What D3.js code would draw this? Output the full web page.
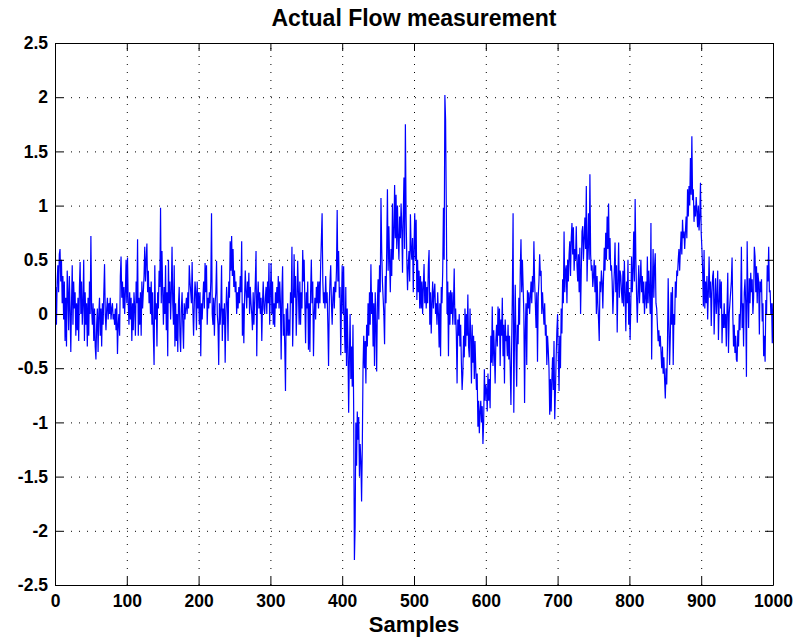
<!DOCTYPE html>
<html>
<head>
<meta charset="utf-8">
<script src="https://cdn.jsdelivr.net/npm/d3@7"></script>
<style>
  body { margin: 0; background: #fff; }
  text { font-family: "Liberation Sans", Arial, sans-serif; font-weight: bold; fill: #000; }
</style>
</head>
<body>
<script>
// flow values, one per sample (1..1000)
const flow = [
  0.25,-0.1,0.3,0.45,0.2,0.55,0.6,0.3,0.5,0.1,
  0.35,-0.05,0.3,-0.25,0.15,-0.3,0.4,0.2,-0.15,0.35,
  0.05,-0.35,0.1,0.45,-0.1,0.3,0.05,0.2,-0.2,0.1,
  -0.15,0.15,-0.25,0.25,0.48,0,0.3,-0.1,0.1,0.5,
  -0.25,0.2,-0.1,0.1,-0.3,0.15,-0.2,0.3,0,0.72,
  0.05,-0.1,0.1,-0.25,0.05,-0.3,-0.42,-0.1,0.05,-0.35,
  0,0.15,-0.2,0.05,-0.3,0.1,-0.1,0.2,0.46,0,
  -0.15,0.05,0.15,-0.05,0.1,0,0.15,-0.05,0.05,0.1,
  -0.05,0,-0.1,0.05,-0.15,0.1,-0.37,-0.1,0,-0.2,
  0.35,0.53,0.15,0.3,0.05,0.25,0,0.2,0.5,0.1,
  0.52,0.1,-0.1,0.2,-0.05,0.15,-0.25,0.1,-0.15,0.2,
  0.05,-0.2,0.3,0.1,0.69,-0.2,0.15,-0.1,0.2,-0.2,
  0.3,0.05,0.2,0.35,0.62,0.3,0.5,0.65,0.2,0.4,
  0.1,0.25,0,0.3,-0.1,0.2,-0.2,-0.47,0.45,-0.05,
  0.1,-0.3,0.2,0.05,0.4,0.25,0.98,0.1,0.58,0.2,
  -0.1,0.25,0,0.45,-0.15,0.2,-0.39,0.5,0.1,0.3,
  -0.05,0.2,0.62,0.1,-0.1,0.45,-0.3,0.1,-0.25,0,
  -0.35,0.1,0.25,-0.2,-0.35,0.05,0.2,-0.1,-0.32,0.1,
  -0.05,0.05,0.15,0,0.2,0.05,0.45,0.3,0.2,0.1,
  0.48,0.05,-0.2,0.1,0.3,0.2,-0.15,0.3,0.05,0.2,
  -0.1,0.2,-0.39,0.1,-0.05,0.15,0.3,0.05,0.47,0.2,
  0.45,-0.1,0.15,0.05,0.2,0.1,0.3,0.93,0,-0.1,
  0.15,-0.2,0.1,0.2,0.49,0,-0.1,-0.47,0.1,-0.1,
  0.05,0.45,-0.25,0.05,-0.1,0.1,-0.45,0,0.25,0.1,
  -0.25,0.3,0.15,0.67,0.4,0.72,0.35,0.6,0.25,0.4,
  0.2,0.3,0,0.2,0.05,0.25,0.1,0.35,0.2,0.67,
  -0.2,0.1,-0.27,0.15,0.4,0.2,0.05,0.3,0.15,0.38,
  0,0.25,0.1,0,-0.15,0.2,-0.1,0.1,0.3,0.58,
  -0.39,0.15,0.3,0.05,0.2,0,0.15,-0.25,0.1,0.3,
  0.05,0,0.15,0.25,0,0.3,0.1,0.47,-0.1,0.2,
  0.47,0,0.3,-0.1,0.1,-0.12,0.2,0.05,0.25,0.1,
  0.35,0.05,0.3,0.1,-0.42,0.2,0.44,-0.2,0,-0.3,
  -0.71,0.05,-0.2,0.1,-0.2,-0.05,-0.2,0.2,0.1,0.62,
  -0.3,0.05,0.55,0.15,0.35,-0.2,0.1,0.49,0.2,-0.1,
  0.3,-0.1,0.2,0.05,0.59,0.3,0.5,0.1,-0.27,0.2,
  0.05,0.3,-0.33,0.1,-0.35,0.2,0.5,0.1,0.3,-0.39,
  0,0.15,-0.05,0.25,0.1,0.3,0.05,0.3,0.1,0.45,
  0.69,0.93,0.3,0.1,0.2,0.05,0.35,0.1,0.2,-0.1,
  -0.48,0.1,0.3,0.45,0.1,-0.1,0.15,0.25,0.05,0.3,
  0.2,0.4,0.96,0.3,0.58,0.15,0.25,-0.38,0.1,0.45,
  0,0.44,-0.1,-0.36,0.25,-0.48,0.05,-0.3,-0.91,-0.4,
  0,-0.6,-0.3,-0.67,-0.1,-0.9,-2.27,-1.96,-1,-1.4,
  -0.9,-1.16,-0.95,-1.5,-1.2,-1.35,-1.73,-1.22,-0.5,-0.2,
  -0.5,-0.25,-0.64,-0.1,-0.3,0.1,-0.2,0.2,-0.1,0.46,
  0,0.2,-0.3,0.1,-0.48,0.2,-0.1,-0.53,0.1,0.32,
  -0.05,0.45,0.2,1.07,0.6,0.3,0.15,0,-0.28,0.35,
  0.1,0.6,1.15,0.4,0.81,0.5,0.2,0.6,0.35,1.02,
  0.5,0.75,1.19,0.7,1.1,0.6,1,0.7,0.5,0.9,
  0.7,1.02,0.8,0.38,0.9,1.26,0.6,1.75,0.9,0.5,
  0.22,0.45,0.58,0.3,0.92,0.6,0.5,0.7,0.2,0.6,
  0.93,0.5,0.87,0.13,0.5,0.2,0.4,0.05,0.35,0.05,
  0.3,0,0.25,0.46,0.1,0.3,0.05,0.25,0.1,0.45,
  0.59,-0.1,0.2,-0.18,0.1,0.3,0.05,0.2,0.28,0,
  0.1,-0.1,0.2,0,-0.31,0.1,-0.39,0.25,0.1,0.4,
  0.98,0.5,2.02,1.79,0.98,0,0.3,-0.39,0.2,-0.1,
  0.22,0,0.2,-0.1,0.1,0.42,-0.1,0.05,-0.2,-0.64,
  -0.05,-0.2,0,-0.3,-0.1,-0.45,-0.7,-0.55,-0.2,-0.4,
  0.05,-0.3,0,-0.2,0.18,-0.3,-0.4,0.05,-0.2,-0.64,
  -0.1,-0.45,-0.2,-0.6,-0.25,-0.5,-0.7,-0.55,-1.04,-0.8,
  -1.1,-0.9,-0.8,-1,-0.85,-1.2,-1,-0.51,-0.8,-0.65,
  -0.7,-0.9,-0.55,-0.8,-0.6,-0.87,-0.2,-0.45,0.07,-0.48,
  -0.15,-0.35,-0.64,-0.25,-0.1,-0.3,0.07,-0.2,0.05,-0.48,
  -0.05,-0.2,0.15,-0.39,-0.1,-0.64,-0.05,-0.25,-0.2,-0.39,
  -0.1,-0.42,-0.2,-0.5,-0.84,-0.3,0.2,0.93,-0.91,-0.2,
  0.27,-0.3,-0.67,-0.1,-0.28,0.15,-0.1,0.4,0.69,0.2,
  0.5,0.25,0,-0.82,-0.15,0.1,-0.47,0.22,0.05,0.2,
  0,0.15,0.3,0.1,0.35,0.2,0.67,0.3,0.1,-0.13,
  0.2,-0.44,0.16,0.3,0.55,0.35,0.4,0,0.2,0.05,
  -0.1,0.1,-0.2,-0.1,-0.47,-0.2,-0.33,-0.5,-0.93,-0.6,
  -0.9,-0.6,-0.4,-0.7,-0.25,-0.97,-0.7,-0.4,-0.15,0,
  -0.4,-0.71,-0.2,-0.5,0.05,-0.18,0.32,0.1,0.76,0.2,
  0.4,0.45,0.1,0.5,0.3,0.55,0.67,0.35,0.7,0.84,
  0.55,0.8,0.4,0.6,0.5,0.81,0.45,0.3,0.55,0.2,
  0.61,0,0.4,0.76,0.81,0.5,0.7,0.89,0.6,1.18,
  0.3,0.6,0.93,0.5,1.29,0.55,0.4,0.45,0.25,0.35,
  0.5,0.2,0.45,0,0.35,0.1,-0.05,-0.25,0.3,0.2,
  0.4,0.3,0.05,0.35,0.61,0.4,0.75,0.5,0.9,0.6,
  1.02,0.5,0.7,0.4,0.45,0.3,0,0.2,0.4,0.66,
  0.2,0.45,-0.17,0.3,0.66,0.15,0.4,0.35,0.2,0.1,
  0.4,0.07,0.49,0.2,-0.16,0.3,0.1,0.5,-0.1,0.2,
  -0.24,0.1,0.53,0.2,0.4,0.76,0.3,1.06,0.5,0.17,
  -0.08,0.2,0.45,0.1,0.3,0.5,0.2,0.35,0.1,0.3,
  0,0.15,0.3,0.05,0.53,0.1,0.4,0.2,0,0.84,
  -0.42,0.2,0.6,0.15,0.43,0.56,0.1,0.05,-0.1,-0.25,
  -0.15,-0.3,-0.2,-0.35,-0.5,-0.3,-0.55,-0.4,-0.6,-0.78,
  -0.5,-0.65,-0.3,0.33,-0.1,-0.47,-0.2,0.2,-0.1,0.25,
  -0.47,0,-0.1,0.3,0.15,0.4,0.35,0.5,0.6,0.4,
  0.6,0.76,0.55,0.87,0.7,0.76,0.6,0.76,0.9,0.7,
  1.15,0.9,1.18,1,1.44,1.1,1.64,1.05,1.15,0.85,
  1,0.9,1.08,0.95,0.8,1,0.77,0.9,1.21,0.75,
  0.6,0.4,0.07,0.59,0.05,0.3,0.1,0.35,-0.05,0.2,
  0.53,0.15,0.3,-0.11,0.2,0.35,0.4,-0.19,0.1,0.33,
  0,0.15,0.4,-0.24,0.1,0.32,0.05,0.3,-0.27,0,
  -0.13,0.1,-0.13,0,-0.3,0.05,0.38,-0.36,0,0.1,
  0.2,0.3,0.52,0,-0.3,-0.1,-0.36,-0.2,-0.42,-0.44,
  -0.15,-0.3,0,-0.15,0.1,0.62,-0.13,0.1,-0.3,0.2,
  0.32,0.1,-0.58,0.67,0.2,-0.13,0.33,0.1,0.38,0.2,
  0.32,0,0.15,0.62,0.53,0.2,0.44,0.1,0.38,0.3,
  -0.19,0.3,0.2,0.32,-0.07,0.1,-0.39,-0.2,-0.44,0.13,
  0,0.45,0.3,0.62,0.2,0.22,0,0.1,-0.27,0.1
]
const xTicks = [0, 100, 200, 300, 400, 500, 600, 700, 800, 900, 1000]
const yTicks = [-2.5, -2, -1.5, -1, -0.5, 0, 0.5, 1, 1.5, 2, 2.5]
const title = "Actual Flow measurement"
const xLabel = "Samples"

const W = 796, H = 637
const m = {top: 43, right: 23, bottom: 52, left: 55},
    width = W - m.left - m.right,
    height = H - m.top - m.bottom;

const svg = d3.select("body").append("svg")
    .attr("width", W)
    .attr("height", H)

const g = svg.append("g").attr("transform", `translate(${m.left}, ${m.top})`)

const x = d3.scaleLinear().domain([0, 1000]).range([0, width])
const y = d3.scaleLinear().domain([-2.5, 2.5]).range([height, 0])

// dotted grid
g.append("g")
  .attr("transform", `translate(0, ${height})`)
  .call(d3.axisBottom(x).tickValues(xTicks.slice(1, -1)).tickSize(-height).tickFormat(""))
  .call(s => s.select(".domain").remove())
  .selectAll("line").attr("stroke", "#000").attr("stroke-dasharray", "1,7")
g.append("g")
  .call(d3.axisLeft(y).tickValues(yTicks.slice(1, -1)).tickSize(-width).tickFormat(""))
  .call(s => s.select(".domain").remove())
  .selectAll("line").attr("stroke", "#000").attr("stroke-dasharray", "1,7")

const line = d3.line()
  .x((d, i) => x(i + 1))
  .y(d => y(d))

g.append("path")
  .datum(flow)
  .attr("fill", "none")
  .attr("stroke", "#0000ff")
  .attr("stroke-width", 1.2)
  .attr("d", line)

// axes with inward ticks, box all round
const tick = 8
g.append("g")
  .attr("transform", `translate(0, ${height})`)
  .call(d3.axisBottom(x).tickValues(xTicks).tickSize(-tick).tickSizeOuter(0).tickPadding(10).tickFormat(d3.format("d")))
  .call(s => s.selectAll("text").attr("font-size", 17.5))
g.append("g")
  .call(d3.axisLeft(y).tickValues(yTicks).tickSize(-tick).tickSizeOuter(0).tickPadding(7).tickFormat(d => d))
  .call(s => s.selectAll("text").attr("font-size", 17.5))
g.append("g")
  .call(d3.axisTop(x).tickValues(xTicks).tickSize(-tick).tickSizeOuter(0).tickFormat(""))
g.append("g")
  .attr("transform", `translate(${width}, 0)`)
  .call(d3.axisRight(y).tickValues(yTicks).tickSize(-tick).tickSizeOuter(0).tickFormat(""))

g.selectAll(".domain, .tick line").attr("stroke", "#000")
svg.selectAll(".tick text").attr("font-family", null)

svg.append("text")
  .attr("x", m.left + width / 2)
  .attr("y", 26)
  .attr("text-anchor", "middle")
  .attr("font-size", 23)
  .text(title)

svg.append("text")
  .attr("x", m.left + width / 2)
  .attr("y", 632)
  .attr("text-anchor", "middle")
  .attr("font-size", 22)
  .text(xLabel)
</script>
</body>
</html>
